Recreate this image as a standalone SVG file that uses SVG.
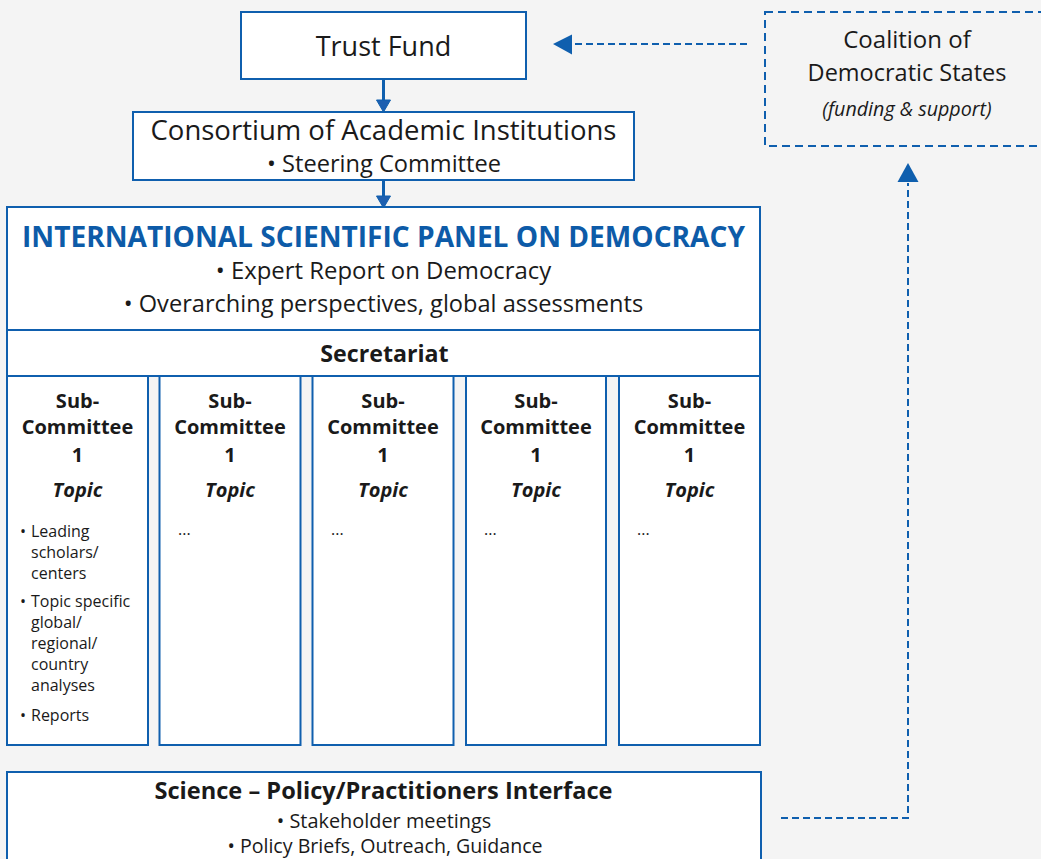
<svg xmlns="http://www.w3.org/2000/svg" width="1041" height="859" viewBox="0 0 1041 859">
<style>
.box{fill:#ffffff;stroke:#0f5fae;stroke-width:2}
.dbox{fill:none;stroke:#0f5fae;stroke-width:2;stroke-dasharray:8 5}
.dash{fill:none;stroke:#0f5fae;stroke-width:2;stroke-dasharray:7 4}
.solid{fill:none;stroke:#0f5fae;stroke-width:3}
.head{fill:#1d5fb0;stroke:#0f5fae;stroke-width:1}
.dhead{fill:#0f5fae}
text{font-family:"Open Sans","Noto Sans","DejaVu Sans",sans-serif;fill:#1a1a1a;text-anchor:middle}
.b{font-weight:700}
.bi{font-weight:700;font-style:italic;font-size:20px}
.sc{font-weight:700;font-size:20px}
.it{font-style:italic}
.item{font-size:16px;text-anchor:start}
.title{font-weight:700;fill:#0d5ba8;font-size:28.1px}
</style>
<rect x="0" y="0" width="1041" height="859" fill="#f4f4f4"/>

<g id="connectors">
<line class="solid" x1="383.5" y1="79" x2="383.5" y2="101"/>
<polygon class="head" points="376.5,100 390.5,100 383.5,112"/>
<line class="solid" x1="383.5" y1="180" x2="383.5" y2="197"/>
<polygon class="head" points="376.5,196 390.5,196 383.5,208"/>
<line class="dash" x1="747" y1="44" x2="573" y2="44"/>
<polygon class="dhead" points="553,44 572,34.5 572,54.5"/>
<polyline class="dash" points="781,818 908,818 908,183"/>
<polygon class="dhead" points="908,163 897.5,182 918.5,182"/>
</g>

<g id="trust-fund">
<rect class="box" x="241" y="12" width="285" height="67"/>
<text x="383.5" y="56" font-size="27">Trust Fund</text>
</g>

<g id="coalition">
<rect class="dbox" x="765" y="12" width="290" height="134"/>
<text x="907" y="48" font-size="24">Coalition of</text>
<text x="907" y="81" font-size="23.5">Democratic States</text>
<text class="it" x="907" y="116" font-size="19.7">(funding &amp; support)</text>
</g>

<g id="consortium">
<rect class="box" x="133" y="112" width="501" height="68"/>
<text x="383.5" y="140" font-size="27.5">Consortium of Academic Institutions</text>
<text x="384" y="172" font-size="23.6">• Steering Committee</text>
</g>

<g id="panel">
<rect class="box" x="7" y="207" width="753" height="123"/>
<text class="title" x="383.5" y="247">INTERNATIONAL SCIENTIFIC PANEL ON DEMOCRACY</text>
<text x="383.5" y="279" font-size="23.9">• Expert Report on Democracy</text>
<text x="383.5" y="312" font-size="23.6">• Overarching perspectives, global assessments</text>
</g>

<g id="secretariat">
<rect class="box" x="7" y="330" width="753" height="46"/>
<text class="b" x="384.5" y="362" font-size="23.2">Secretariat</text>
</g>

<g id="subcommittee-1">
<rect class="box" x="7" y="376" width="141" height="369"/>
<text class="sc" x="77.5" y="408">Sub-</text>
<text class="sc" x="77.5" y="434">Committee</text>
<text class="sc" x="77.5" y="462">1</text>
<text class="bi" x="77.5" y="497">Topic</text>
<text class="item" x="20" y="537">•</text>
<text class="item" x="31" y="537">Leading</text>
<text class="item" x="31" y="558">scholars/</text>
<text class="item" x="31" y="579">centers</text>
<text class="item" x="20" y="607">•</text>
<text class="item" x="31" y="607">Topic specific</text>
<text class="item" x="31" y="628">global/</text>
<text class="item" x="31" y="649">regional/</text>
<text class="item" x="31" y="670">country</text>
<text class="item" x="31" y="691">analyses</text>
<text class="item" x="20" y="721">•</text>
<text class="item" x="31" y="721">Reports</text>
</g>

<g id="subcommittee-2">
<rect class="box" x="159.5" y="376" width="141" height="369"/>
<text class="sc" x="230" y="408">Sub-</text>
<text class="sc" x="230" y="434">Committee</text>
<text class="sc" x="230" y="462">1</text>
<text class="bi" x="230" y="497">Topic</text>
<text class="item" x="178" y="535">...</text>
</g>

<g id="subcommittee-3">
<rect class="box" x="312.5" y="376" width="141" height="369"/>
<text class="sc" x="383" y="408">Sub-</text>
<text class="sc" x="383" y="434">Committee</text>
<text class="sc" x="383" y="462">1</text>
<text class="bi" x="383" y="497">Topic</text>
<text class="item" x="331" y="535">...</text>
</g>

<g id="subcommittee-4">
<rect class="box" x="466" y="376" width="140" height="369"/>
<text class="sc" x="536" y="408">Sub-</text>
<text class="sc" x="536" y="434">Committee</text>
<text class="sc" x="536" y="462">1</text>
<text class="bi" x="536" y="497">Topic</text>
<text class="item" x="484" y="535">...</text>
</g>

<g id="subcommittee-5">
<rect class="box" x="619" y="376" width="141" height="369"/>
<text class="sc" x="689.5" y="408">Sub-</text>
<text class="sc" x="689.5" y="434">Committee</text>
<text class="sc" x="689.5" y="462">1</text>
<text class="bi" x="689.5" y="497">Topic</text>
<text class="item" x="637" y="535">...</text>
</g>

<g id="interface">
<rect class="box" x="7" y="772" width="754" height="100"/>
<text class="b" x="383.5" y="799" font-size="23.6">Science – Policy/Practitioners Interface</text>
<text x="384" y="828" font-size="19.9">• Stakeholder meetings</text>
<text x="385" y="853" font-size="19.6">• Policy Briefs, Outreach, Guidance</text>
</g>
</svg>
